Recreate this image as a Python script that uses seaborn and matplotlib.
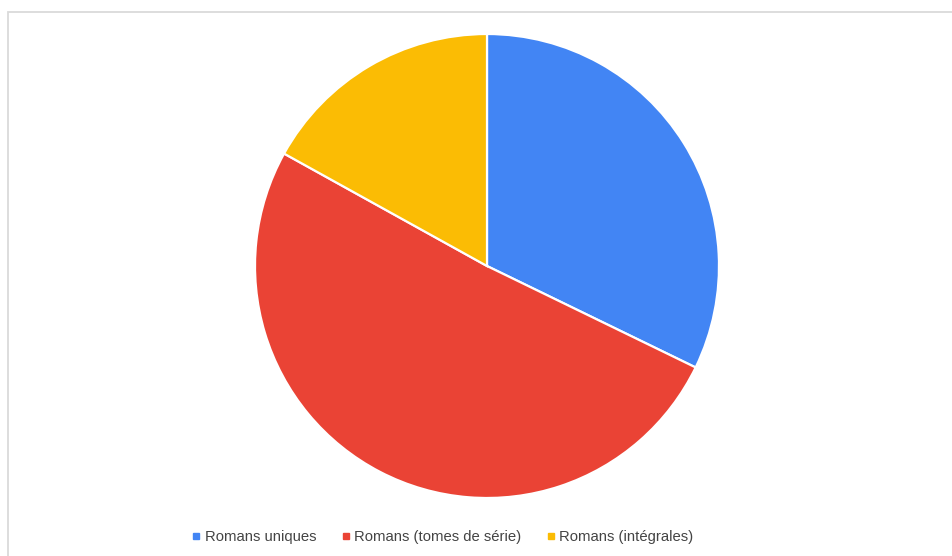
import matplotlib
matplotlib.use("Agg")
import matplotlib.pyplot as plt
from matplotlib.lines import Line2D
from matplotlib.patches import Rectangle
import seaborn as sns

categories = ["Romans uniques", "Romans (tomes de série)", "Romans (intégrales)"]
counts = [19, 30, 10]
colors = ["#4285F4", "#EA4335", "#FBBC04"]

sns.set_theme(style="white")
plt.rcParams["font.family"] = ["Liberation Sans", "DejaVu Sans"]

W, H = 953, 556
fig = plt.figure(figsize=(W / 100, H / 100), dpi=100)
fig.patch.set_facecolor("white")

# light frame around the chart area (runs off the right and bottom edges)
fig.patches.append(Rectangle((8.5 / W, -0.1), 1.2, (H - 11.5) / H + 0.1,
                             transform=fig.transFigure, fill=False,
                             edgecolor="#dadada", linewidth=1.3))

cx, cy, r = 487, 266, 232
ax = fig.add_axes([(cx - r) / W, (H - cy - r) / H, 2 * r / W, 2 * r / H])
ax.pie(counts, colors=colors, startangle=90, counterclock=False, radius=1,
       wedgeprops=dict(edgecolor="white", linewidth=1.6))
ax.set_xlim(-1, 1)
ax.set_ylim(-1, 1)
ax.set_axis_off()

handles = [Line2D([0], [0], marker="s", linestyle="none", markersize=4.5,
                  markerfacecolor=c, markeredgecolor=c) for c in colors]
fig.legend(handles, categories, loc="center", ncol=3,
           bbox_to_anchor=(443 / W, 1 - 537 / H), frameon=False,
           fontsize=10.7, labelcolor="#444444", handlelength=0.5,
           handletextpad=0.3, columnspacing=1.76)

fig.savefig("out.png", dpi=100)
